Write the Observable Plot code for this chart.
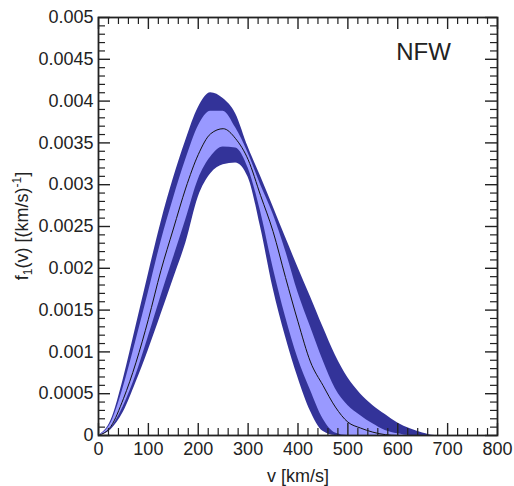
<!DOCTYPE html>
<html>
<head>
<meta charset="utf-8">
<script src="https://cdn.jsdelivr.net/npm/d3@7"></script>
<script src="https://cdn.jsdelivr.net/npm/@observablehq/plot@0.6"></script>
<style>
  body { margin: 0; background: #fff; }
  #chart svg { display: block; }
</style>
</head>
<body>
<div id="chart"></div>
<script>
// Speed grid (km/s) on which the distribution and its bands are tabulated
const speed = [0, 25, 50, 75, 100, 125, 150, 175, 200, 225, 250, 275, 300, 325, 350, 375, 400,
               425, 450, 475, 500, 525, 550, 575, 600, 625, 650, 675, 700, 725, 750, 775, 800];

// Best-fit speed distribution f1(v) in (km/s)^-1
const fCentral = [0, 0.00011, 0.00044, 0.00087, 0.00139, 0.00197, 0.00247, 0.00296, 0.00336, 0.00361,
                  0.00367, 0.00355, 0.00330, 0.00287, 0.00244, 0.00189, 0.00136, 0.00088, 0.00060, 0.00034,
                  0.00016, 0.00009, 0.00004, 0.00001, 0, 0, 0, 0, 0, 0, 0, 0, 0];

// Inner (68%) band
const fLow68 = [0, 0.00009, 0.00035, 0.00072, 0.00118, 0.00166, 0.00212, 0.00258, 0.00306, 0.00333,
                0.00345, 0.00344, 0.00320, 0.00268, 0.00201, 0.00142, 0.00092, 0.00054, 0.00020, 0.00003,
                0, 0, 0, 0, 0, 0, 0, 0, 0, 0, 0, 0, 0];
const fHigh68 = [0, 0.00015, 0.00058, 0.00113, 0.00171, 0.00231, 0.00283, 0.00330, 0.00370, 0.00388,
                 0.00388, 0.00368, 0.00338, 0.00300, 0.00265, 0.00221, 0.00171, 0.00130, 0.00090, 0.00056,
                 0.00036, 0.00024, 0.00014, 0.00006, 0.00002, 0, 0, 0, 0, 0, 0, 0, 0];

// Outer (95%) band
const fLow95 = [0, 0.00007, 0.00028, 0.00063, 0.00102, 0.00144, 0.00187, 0.00230, 0.00285, 0.00313,
                0.00324, 0.00326, 0.00309, 0.00249, 0.00176, 0.00118, 0.00069, 0.00029, 0.00005, 0,
                0, 0, 0, 0, 0, 0, 0, 0, 0, 0, 0, 0, 0];
const fHigh95 = [0, 0.00018, 0.00068, 0.00130, 0.00193, 0.00254, 0.00307, 0.00353, 0.00392, 0.00410,
                 0.00403, 0.00385, 0.00345, 0.00310, 0.00274, 0.00237, 0.00201, 0.00166, 0.00130, 0.00096,
                 0.00069, 0.00050, 0.00036, 0.00025, 0.00015, 0.00008, 0.00003, 0, 0, 0, 0, 0, 0];

// Axis ticks
const xTicks = [0, 100, 200, 300, 400, 500, 600, 700, 800];
const yTicks = [0, 0.0005, 0.001, 0.0015, 0.002, 0.0025, 0.003, 0.0035, 0.004, 0.0045, 0.005];
const yTickLabels = ["0", "0.0005", "0.001", "0.0015", "0.002", "0.0025", "0.003", "0.0035", "0.004", "0.0045", "0.005"];
const xMinor = d3.range(0, 801, 20).filter(v => v % 100 !== 0);
const yMinor = d3.range(1, 50).filter(k => k % 5 !== 0).map(k => k / 10000);

const rows = speed.map((v, i) => ({
  v, mid: fCentral[i], lo68: fLow68[i], hi68: fHigh68[i], lo95: fLow95[i], hi95: fHigh95[i]
}));

const W = 514, H = 486;
const mL = 98, mR = 17, mT = 17, mB = 51;
const innerW = W - mL - mR, innerH = H - mT - mB;
const ink = "#222";
const major = 12, minor = 7;

const chart = Plot.plot({
  width: W,
  height: H,
  marginLeft: mL, marginRight: mR, marginTop: mT, marginBottom: mB,
  style: { fontFamily: "'Liberation Sans', Arial, sans-serif", fontSize: "18px", color: ink, background: "#fff" },
  x: { domain: [0, 800], axis: null },
  y: { domain: [0, 0.005], axis: null },
  marks: [
    Plot.areaY(rows, { x: "v", y1: "lo95", y2: "hi95", fill: "#333399", curve: "monotone-x" }),
    Plot.areaY(rows, { x: "v", y1: "lo68", y2: "hi68", fill: "#9999ff", curve: "monotone-x" }),
    Plot.lineY(rows, { x: "v", y: "mid", stroke: "#111", strokeWidth: 1, curve: "monotone-x" }),

    // inward ticks on all four sides
    Plot.tickX(xTicks, { insetTop: innerH - major, stroke: ink, strokeWidth: 1.4 }),
    Plot.tickX(xMinor, { insetTop: innerH - minor, stroke: ink, strokeWidth: 1.2 }),
    Plot.tickX(xTicks, { insetBottom: innerH - major, stroke: ink, strokeWidth: 1.4 }),
    Plot.tickX(xMinor, { insetBottom: innerH - minor, stroke: ink, strokeWidth: 1.2 }),
    Plot.tickY(yTicks, { insetRight: innerW - major, stroke: ink, strokeWidth: 1.4 }),
    Plot.tickY(yMinor, { insetRight: innerW - minor, stroke: ink, strokeWidth: 1.2 }),
    Plot.tickY(yTicks, { insetLeft: innerW - major, stroke: ink, strokeWidth: 1.4 }),
    Plot.tickY(yMinor, { insetLeft: innerW - minor, stroke: ink, strokeWidth: 1.2 }),
    Plot.frame({ stroke: ink, strokeWidth: 1.8 }),

    Plot.axisX(xTicks, { tickSize: 0, tickPadding: 7, fill: ink, label: null }),
    Plot.axisY(yTicks, { tickSize: 0, tickPadding: 5, fill: ink, label: null,
                         tickFormat: (d, i) => yTickLabels[i] }),

    Plot.text(["v [km/s]"], { frameAnchor: "bottom", dy: 46, lineAnchor: "bottom", fill: ink, fontSize: 18 }),
    Plot.text(["NFW"], { frameAnchor: "top-right", dx: -74, dy: 25, lineAnchor: "top", textAnchor: "middle", fill: ink, fontSize: 24 })
  ]
});

document.getElementById("chart").appendChild(chart);

// rotated y-axis title with subscript and superscript
const ylab = d3.select(chart).append("text")
  .attr("transform", `translate(28, ${mT + innerH / 2}) rotate(-90)`)
  .attr("text-anchor", "middle")
  .attr("fill", ink)
  .attr("font-size", 18);
ylab.append("tspan").text("f");
ylab.append("tspan").attr("font-size", 12).attr("dy", 4).text("1");
ylab.append("tspan").attr("dy", -4).text("(v) [(km/s)");
ylab.append("tspan").attr("font-size", 12).attr("dy", -7).text("-1");
ylab.append("tspan").attr("dy", 7).text("]");
</script>
</body>
</html>
